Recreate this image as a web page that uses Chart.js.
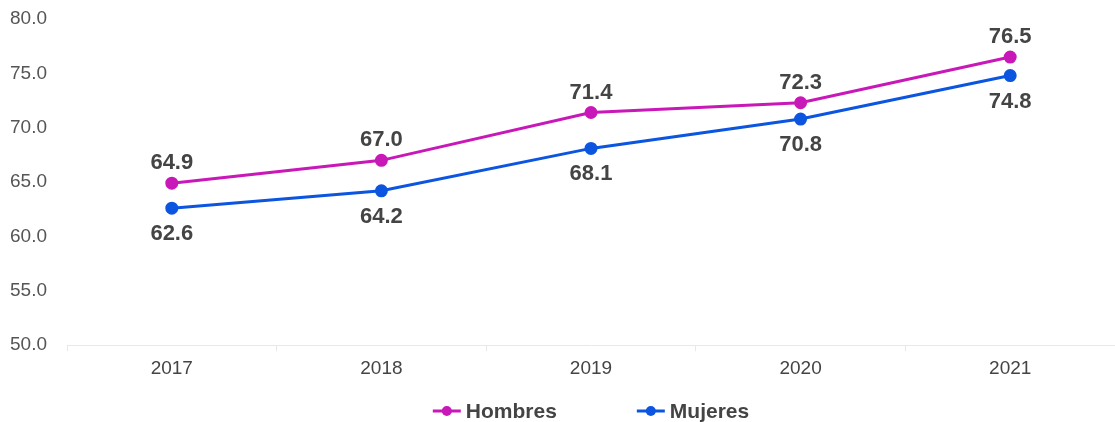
<!DOCTYPE html>
<html>
<head>
<meta charset="utf-8">
<script src="https://cdn.jsdelivr.net/npm/chart.js@4/dist/chart.umd.min.js"></script>
<style>
  html, body { margin: 0; padding: 0; background: #fff; }
  #wrap { width: 1115px; height: 422px; }
</style>
</head>
<body>
<div id="wrap"><canvas id="grafico"></canvas></div>
<script>
// Datos
const anios = ['2017', '2018', '2019', '2020', '2021'];
const hombres = [64.9, 67.0, 71.4, 72.3, 76.5];
const mujeres = [62.6, 64.2, 68.1, 70.8, 74.8];
const yTicks = [50, 55, 60, 65, 70, 75, 80];

const colorHombres = '#c918b8';
const colorMujeres = '#0b55e0';
const fuente = "'Liberation Sans', Arial, Helvetica, sans-serif";

// etiquetas de valores (arriba para hombres, abajo para mujeres)
const etiquetas = {
  id: 'etiquetas',
  afterDatasetsDraw(chart) {
    const ctx = chart.ctx;
    ctx.save();
    ctx.font = 'bold 22px ' + fuente;
    ctx.fillStyle = '#444';
    ctx.textAlign = 'center';
    ctx.textBaseline = 'middle';
    chart.data.datasets.forEach((ds, i) => {
      const meta = chart.getDatasetMeta(i);
      meta.data.forEach((pt, j) => {
        const dy = i === 0 ? -20 : 26;
        ctx.fillText(ds.data[j].toFixed(1), pt.x, pt.y + dy);
      });
    });
    ctx.restore();
  }
};

// leyenda propia: línea con punto + texto, centrada en el área del gráfico
const leyenda = {
  id: 'leyenda',
  afterDraw(chart) {
    const ctx = chart.ctx;
    const area = chart.chartArea;
    const y = chart.height - 11;
    ctx.save();
    ctx.font = 'bold 21px ' + fuente;
    const items = chart.data.datasets.map(ds => ({ ds, w: 28 + 5 + ctx.measureText(ds.label).width }));
    const sep = 80;
    const total = items.reduce((s, it) => s + it.w, 0) + sep * (items.length - 1);
    let x = (area.left + area.right) / 2 - total / 2;
    items.forEach(({ ds, w }) => {
      ctx.strokeStyle = ds.borderColor;
      ctx.fillStyle = ds.borderColor;
      ctx.lineWidth = 3;
      ctx.beginPath(); ctx.moveTo(x, y); ctx.lineTo(x + 28, y); ctx.stroke();
      ctx.beginPath(); ctx.arc(x + 14, y, 5, 0, Math.PI * 2); ctx.fill();
      ctx.fillStyle = '#444';
      ctx.textAlign = 'left';
      ctx.textBaseline = 'middle';
      ctx.fillText(ds.label, x + 33, y + 1);
      x += w + sep;
    });
    ctx.restore();
  }
};

new Chart(document.getElementById('grafico'), {
  type: 'line',
  data: {
    labels: anios,
    datasets: [
      {
        label: 'Hombres', data: hombres,
        borderColor: colorHombres, backgroundColor: colorHombres,
        borderWidth: 3, pointRadius: 5, pointHoverRadius: 5, tension: 0
      },
      {
        label: 'Mujeres', data: mujeres,
        borderColor: colorMujeres, backgroundColor: colorMujeres,
        borderWidth: 3, pointRadius: 5, pointHoverRadius: 5, tension: 0
      }
    ]
  },
  options: {
    responsive: true,
    maintainAspectRatio: false,
    animation: false,
    layout: { autoPadding: false, padding: { top: 19, left: 0, right: 0, bottom: 36 } },
    scales: {
      x: {
        offset: true,
        afterFit(scale) { scale.paddingLeft = 0; scale.paddingRight = 0; },
        grid: { display: true, drawOnChartArea: false, drawTicks: true, tickLength: 6, color: '#e8e8e8', offset: true },
        border: { display: true, color: '#e8e8e8' },
        ticks: { color: '#444', font: { family: fuente, size: 19 }, padding: 6 }
      },
      y: {
        min: 50, max: 80,
        afterBuildTicks(scale) { scale.ticks = yTicks.map(v => ({ value: v })); },
        afterFit(scale) { scale.width = 67; scale.paddingTop = 0; scale.paddingBottom = 0; },
        grid: { display: false, drawTicks: false },
        border: { display: false },
        ticks: { color: '#555', font: { family: fuente, size: 19 }, padding: 20, callback: v => v.toFixed(1) }
      }
    },
    plugins: {
      tooltip: { enabled: false },
      legend: { display: false }
    }
  },
  plugins: [etiquetas, leyenda]
});
</script>
</body>
</html>
